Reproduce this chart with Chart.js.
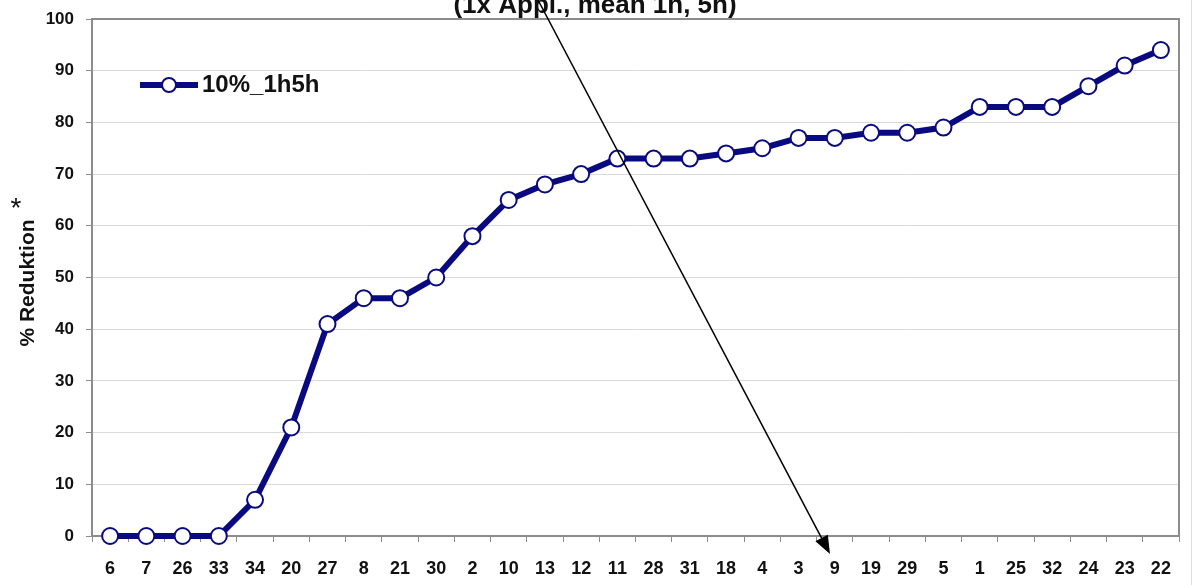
<!DOCTYPE html>
<html><head><meta charset="utf-8">
<script src="https://cdn.jsdelivr.net/npm/chart.js@4/dist/chart.umd.min.js"></script>
<style>html,body{margin:0;padding:0;background:#fff;}#wrap{width:1196px;height:585px;position:relative;}</style>
</head><body><div id="wrap"><canvas id="c" width="1196" height="585"></canvas></div>
<script>
const categories = ['6','7','26','33','34','20','27','8','21','30','2','10','13','12','11','28','31','18','4','3','9','19','29','5','1','25','32','24','23','22'];
const values = [0,0,0,0,7,21,41,46,46,50,58,65,68,70,73,73,73,74,75,77,77,78,78,79,83,83,83,87,91,94];
const seriesName = '10%_1h5h';
const titleText = '(1x Appl., mean 1h, 5h)';
const yTitle = '% Reduktion';

const FONT = 'Arial, "Liberation Sans", sans-serif';
const NAVY = '#0a0a80';

const extras = {
  id: 'extras',
  beforeDatasetsDraw(chart) {
    const {ctx, chartArea: a} = chart;
    ctx.save();
    ctx.strokeStyle = '#8c8c8c';
    ctx.lineWidth = 2;
    ctx.strokeRect(a.left, a.top, a.right - a.left, a.bottom - a.top);
    ctx.restore();
  },
  afterDraw(chart) {
    const {ctx} = chart;
    ctx.save();
    ctx.fillStyle = '#111';
    // title (partly cut at top)
    ctx.font = 'bold 26px ' + FONT;
    ctx.textAlign = 'center';
    ctx.textBaseline = 'alphabetic';
    ctx.fillText(titleText, 595, 13);
    // y axis title
    ctx.save();
    ctx.translate(28, 283);
    ctx.rotate(-Math.PI / 2);
    ctx.font = 'bold 21px ' + FONT;
    ctx.textBaseline = 'middle';
    ctx.fillText(yTitle, 0, 0);
    ctx.restore();
    // asterisk
    ctx.font = '28px ' + FONT;
    ctx.textBaseline = 'middle';
    ctx.fillText('*', 16, 209);
    // legend
    const ly = 85;
    ctx.strokeStyle = NAVY; ctx.lineWidth = 6;
    ctx.beginPath(); ctx.moveTo(140, ly); ctx.lineTo(198, ly); ctx.stroke();
    ctx.beginPath(); ctx.arc(169, ly, 7, 0, Math.PI * 2);
    ctx.fillStyle = '#fff'; ctx.fill();
    ctx.lineWidth = 2; ctx.stroke();
    ctx.fillStyle = '#111';
    ctx.font = 'bold 24px ' + FONT;
    ctx.textAlign = 'left'; ctx.textBaseline = 'middle';
    ctx.fillText(seriesName, 202, ly);
    // right faint vertical line
    ctx.strokeStyle = '#dcdcdc'; ctx.lineWidth = 1;
    ctx.beginPath(); ctx.moveTo(1191.5, 0); ctx.lineTo(1191.5, 585); ctx.stroke();
    // arrow
    const x1 = 538, y1 = 0, x2 = 830, y2 = 554;
    ctx.strokeStyle = '#000'; ctx.fillStyle = '#000'; ctx.lineWidth = 1.5;
    const ang = Math.atan2(y2 - y1, x2 - x1);
    const hl = 18, hw = 7;
    const bx = x2 - hl * Math.cos(ang), by = y2 - hl * Math.sin(ang);
    ctx.beginPath(); ctx.moveTo(x1, y1); ctx.lineTo(bx, by); ctx.stroke();
    ctx.beginPath();
    ctx.moveTo(x2, y2);
    ctx.lineTo(bx + hw * Math.sin(ang), by - hw * Math.cos(ang));
    ctx.lineTo(bx - hw * Math.sin(ang), by + hw * Math.cos(ang));
    ctx.closePath(); ctx.fill();
    ctx.restore();
  }
};

new Chart(document.getElementById('c'), {
  type: 'line',
  data: {
    labels: categories,
    datasets: [{
      label: seriesName,
      data: values,
      borderColor: NAVY,
      borderWidth: 6,
      pointRadius: 8,
      pointBackgroundColor: '#fff',
      pointBorderColor: NAVY,
      pointBorderWidth: 2,
      tension: 0,
      fill: false,
      clip: false
    }]
  },
  options: {
    responsive: false,
    animation: false,
    devicePixelRatio: 1,
    layout: { padding: { top: 19, right: 17, left: 0, bottom: 0 } },
    plugins: { legend: { display: false }, title: { display: false }, tooltip: { enabled: false } },
    scales: {
      x: {
        offset: true,
        grid: { offset: true, drawOnChartArea: false, drawTicks: true, tickLength: 6, color: '#8c8c8c' },
        border: { display: false },
        ticks: { color: '#111', font: { family: FONT, size: 18, weight: 'bold' }, padding: 16, maxRotation: 0, autoSkip: false },
        afterFit(s) { s.height = 49; s.paddingLeft = 0; s.paddingRight = 0; }
      },
      y: {
        min: 0, max: 100,
        grid: { color: '#dadada', lineWidth: 1, drawTicks: true, tickLength: 6, tickColor: '#8c8c8c' },
        border: { display: false },
        ticks: { stepSize: 10, color: '#111', font: { family: FONT, size: 17, weight: 'bold' }, padding: 12 },
        afterFit(s) { s.width = 92; s.paddingTop = 0; s.paddingBottom = 0; }
      }
    }
  },
  plugins: [extras]
});
</script>
</body></html>
